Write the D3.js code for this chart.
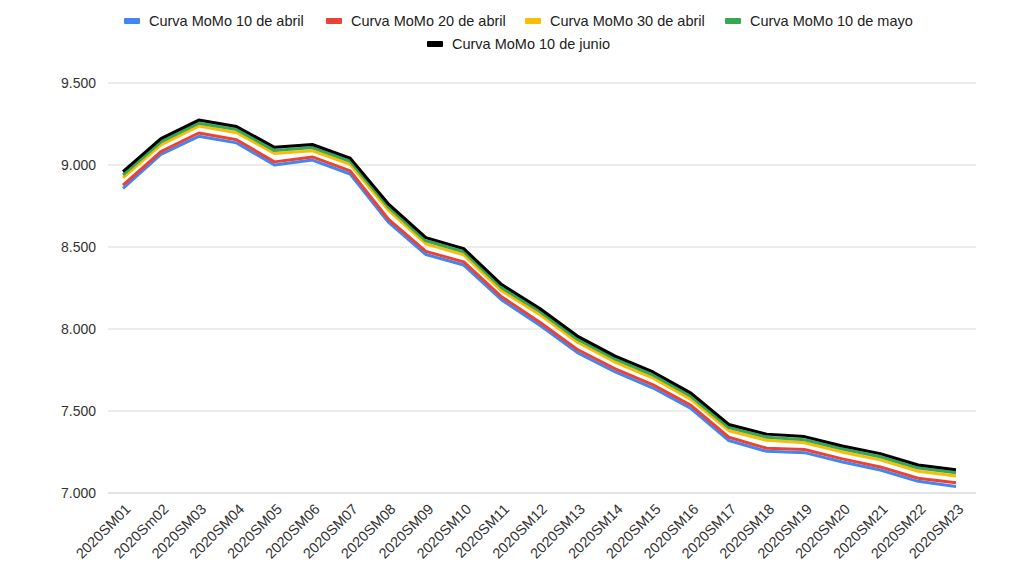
<!DOCTYPE html>
<html>
<head>
<meta charset="utf-8">
<script src="https://cdn.jsdelivr.net/npm/d3@7"></script>
<style>
  html, body { margin: 0; padding: 0; background: #fff; }
  svg { display: block; font-family: "Liberation Sans", Arial, sans-serif; }
</style>
</head>
<body>
<svg id="chart" width="1024" height="576"></svg>
<script>
const categories = ["2020SM01","2020Sm02","2020SM03","2020SM04","2020SM05","2020SM06","2020SM07","2020SM08","2020SM09","2020SM10","2020SM11","2020SM12","2020SM13","2020SM14","2020SM15","2020SM16","2020SM17","2020SM18","2020SM19","2020SM20","2020SM21","2020SM22","2020SM23"];

const seriesNames = ["Curva MoMo 10 de abril","Curva MoMo 20 de abril","Curva MoMo 30 de abril","Curva MoMo 10 de mayo","Curva MoMo 10 de junio"];
const seriesColors = ["#4285F4","#EA4335","#FBBC04","#34A853","#000000"];

const abril10 = [8858,9064,9175,9135,9000,9030,8945,8653,8454,8390,8177,8024,7856,7738,7640,7515,7320,7254,7246,7189,7140,7071,7040];
const abril20 = [8878,9082,9195,9154,9019,9049,8964,8672,8473,8409,8196,8043,7875,7757,7659,7534,7340,7273,7265,7208,7159,7090,7062];
const abril30 = [8922,9123,9237,9197,9070,9087,9004,8727,8519,8452,8233,8089,7919,7797,7700,7571,7380,7321,7306,7249,7202,7133,7104];
const mayo10  = [8940,9141,9255,9216,9088,9106,9023,8746,8538,8471,8252,8108,7938,7816,7719,7590,7399,7340,7325,7268,7221,7152,7123];
const junio10 = [8960,9161,9274,9235,9108,9125,9042,8765,8557,8490,8271,8127,7957,7835,7738,7609,7418,7359,7344,7287,7240,7171,7142];

const yTicks = [7000,7500,8000,8500,9000,9500];

const allSeries = [abril10, abril20, abril30, mayo10, junio10];

const svg = d3.select("#chart");
const locale = d3.formatLocale({decimal: ",", thousands: ".", grouping: [3], currency: ["", "€"]});
const fmt = locale.format(",");

const x = d3.scalePoint().domain(categories).range([123, 956]);
const y = d3.scaleLinear().domain([7000, 9500]).range([493, 83]);

// gridlines
svg.append("g").selectAll("line").data(yTicks).join("line")
  .attr("x1", 108).attr("x2", 976)
  .attr("y1", d => y(d)).attr("y2", d => y(d))
  .attr("stroke", d => d === 7000 ? "#c8c8c8" : "#d9d9d9")
  .attr("stroke-width", 1.2);

// y axis labels
const yAxis = d3.axisLeft(y).tickValues(yTicks).tickFormat(fmt).tickSize(0).tickPadding(0);
const yg = svg.append("g").attr("transform", "translate(96,0)").call(yAxis);
yg.select(".domain").remove();
yg.selectAll("text").attr("font-size", 14).attr("fill", "#333").attr("font-family", "'Liberation Sans', Arial, sans-serif");

// x axis labels
const xAxis = d3.axisBottom(x).tickSize(0).tickPadding(0);
const xg = svg.append("g").attr("transform", "translate(0,500)").call(xAxis);
xg.select(".domain").remove();
xg.selectAll("text")
  .attr("font-size", 14.5).attr("fill", "#333").attr("font-family", "'Liberation Sans', Arial, sans-serif")
  .attr("text-anchor", "end")
  .attr("dy", 0).attr("y", 0)
  .attr("transform", "translate(8,10) rotate(-45)");

// lines
const line = d3.line().x((d, i) => x(categories[i])).y(d => y(d));
svg.append("g").selectAll("path").data(allSeries).join("path")
  .attr("d", d => line(d))
  .attr("fill", "none")
  .attr("stroke", (d, i) => seriesColors[i])
  .attr("stroke-width", 3)
  .attr("stroke-linejoin", "round");

// legend
const legendPos = [
  {x: 124, y: 21}, {x: 326, y: 21}, {x: 525, y: 21}, {x: 725, y: 21}, {x: 427, y: 44}
];
const lg = svg.append("g");
seriesNames.forEach((name, i) => {
  const p = legendPos[i];
  lg.append("rect").attr("x", p.x).attr("y", p.y - 3).attr("width", 16).attr("height", 6)
    .attr("rx", 1).attr("fill", seriesColors[i]);
  lg.append("text").attr("x", p.x + 25).attr("y", p.y + 5)
    .attr("font-size", 14.5).attr("fill", "#222").text(name);
});
</script>
</body>
</html>
